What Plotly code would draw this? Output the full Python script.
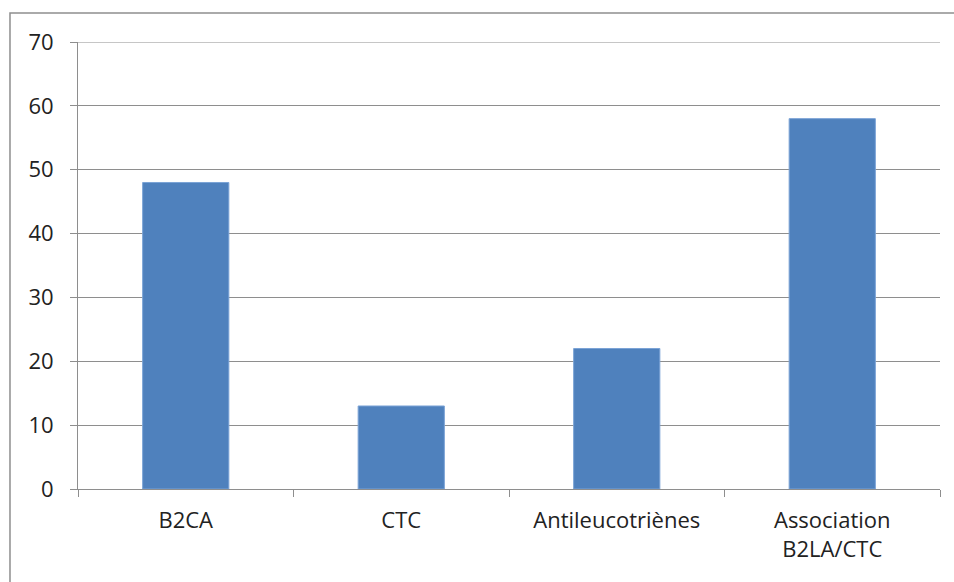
import plotly.graph_objects as go

# data
categories = ["B2CA", "CTC", "Antileucotriènes", "Association<br>B2LA/CTC"]
values = [48, 13, 22, 58]
y_ticks = [0, 10, 20, 30, 40, 50, 60, 70]

bar = go.Bar(
    x=categories,
    y=values,
    width=0.4,
    marker=dict(color="#4F81BD", line=dict(color="#7BA3D6", width=1)),
)

fig = go.Figure(data=[bar])

font = dict(family="Open Sans, Liberation Sans, sans-serif", size=22, color="#222222")

fig.update_layout(
    width=954,
    height=582,
    margin=dict(l=78, r=14, t=42, b=93),
    paper_bgcolor="white",
    plot_bgcolor="white",
    showlegend=False,
    font=font,
    bargap=0.6,
)

fig.update_yaxes(
    range=[0, 70],
    tickvals=y_ticks,
    showgrid=True,
    gridcolor="#8E8E8E",
    gridwidth=1,
    showline=True,
    linecolor="#8E8E8E",
    ticks="outside",
    ticklen=7,
    tickcolor="#8E8E8E",
    zeroline=False,
    ticklabelstandoff=12,
)

fig.update_xaxes(
    showline=True,
    linecolor="#8E8E8E",
    ticks="outside",
    tickson="boundaries",
    ticklen=7,
    tickcolor="#8E8E8E",
    showgrid=False,
    ticklabelstandoff=12,
)

# top gridline at 70 (plotly skips the one on the range edge)
fig.add_shape(
    type="line", xref="paper", yref="y",
    x0=0, x1=1, y0=70, y1=70,
    line=dict(color="#8E8E8E", width=1),
)

# outer chart frame (runs off the right and bottom edges)
fig.add_shape(
    type="rect", xref="paper", yref="paper",
    x0=-0.0789, x1=1.2, y0=-0.3, y1=1.0649,
    line=dict(color="#8E8E8E", width=1.5),
    layer="below",
)

# drop the default page margin so the figure sits at the window origin
fig.write_html(
    "out.html",
    config={"displayModeBar": False},
    post_script="document.body.style.margin='0px';",
)
